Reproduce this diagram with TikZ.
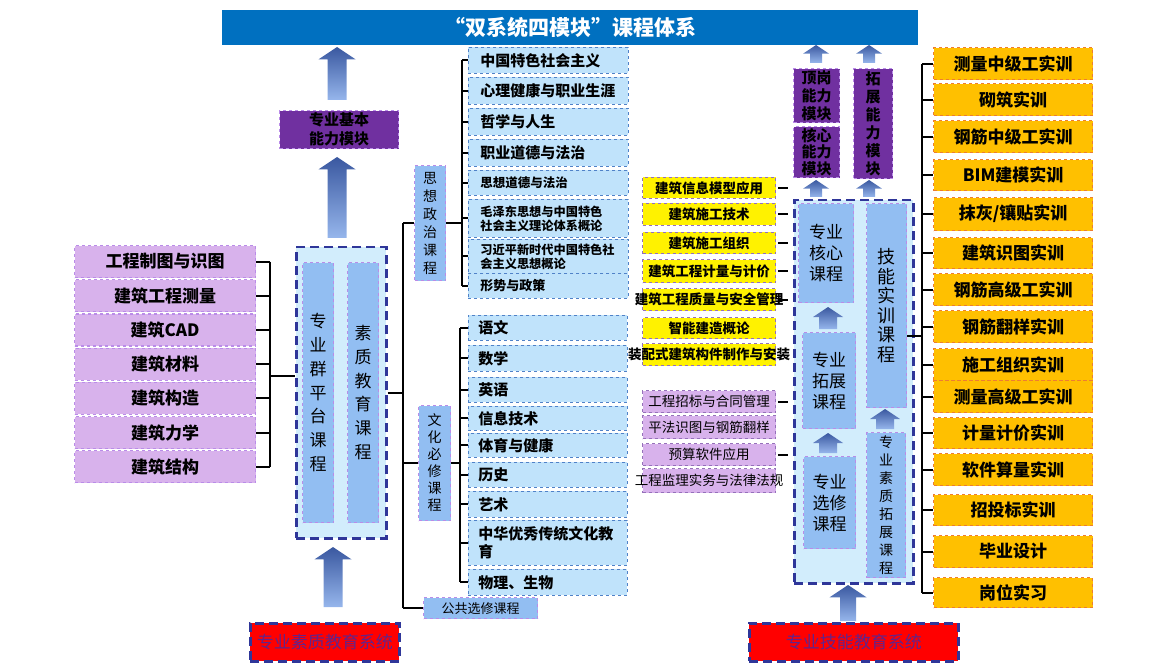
\documentclass[tikz,border=0pt]{standalone}
\usepackage{fontspec}
\setmainfont{Noto Sans CJK SC}
\definecolor{titleblue}{RGB}{0,112,192}
\definecolor{modpurple}{RGB}{112,48,160}
\definecolor{lavender}{RGB}{216,178,236}
\definecolor{lilac}{RGB}{186,140,232}
\definecolor{midblue}{RGB}{146,190,242}
\definecolor{paleblue}{RGB}{192,227,251}
\definecolor{lineblue}{RGB}{80,130,200}
\definecolor{boxfill}{RGB}{210,237,252}
\definecolor{navy}{RGB}{47,54,153}
\definecolor{gold}{RGB}{255,192,0}
\definecolor{orangeline}{RGB}{237,125,49}
\definecolor{redtext}{RGB}{96,36,140}
\definecolor{arrowtop}{RGB}{58,88,160}
\definecolor{arrowbot}{RGB}{150,182,236}
% block arrow: x, top y, bottom y, head width, shaft width
\newcommand{\blockarrow}[5]{%
  \shade[top color=arrowtop, bottom color=arrowbot]
    (#1-#5/2,#3) -- (#1-#5/2,#2+#4/3) -- (#1-#4/2,#2+#4/3) -- (#1,#2)
    -- (#1+#4/2,#2+#4/3) -- (#1+#5/2,#2+#4/3) -- (#1+#5/2,#3) -- cycle;}
\begin{document}
\begin{tikzpicture}[x=1pt, y=-1pt,
    base/.style={anchor=north west, inner sep=0pt, align=center},
    brk/.style={line width=2pt, black},
    frame/.style={base, fill=boxfill, draw=navy, line width=2.5pt, dash pattern=on 9pt off 5pt},
    inner/.style={base, fill=midblue, draw=lilac, dashed, line width=1.2pt},
    module/.style={base, fill=modpurple, draw=lilac, dashed, line width=1.2pt, font=\fontsize{15}{18}\selectfont\bfseries},
    leftitem/.style={base, minimum width=181pt, minimum height=32pt, fill=lavender, draw=lilac, dashed, line width=1.2pt, font=\fontsize{17}{20}\selectfont\bfseries},
    listitem/.style={base, fill=paleblue, draw=lineblue, dashed, line width=0.8pt, align=left},
    smallitem/.style={base, minimum width=133pt, draw=lilac!80!black, dashed, line width=1pt, font=\fontsize{13.5}{15}\selectfont},
    drill/.style={base, minimum width=159pt, fill=gold, draw=orangeline, dashed, line width=1.2pt, font=\fontsize{17}{20}\selectfont\bfseries},
    system/.style={base, minimum height=38pt, fill=red, draw=navy, line width=2.5pt, dash pattern=on 9pt off 5pt, text=redtext, font=\fontsize{17}{20}\selectfont}]
  \useasboundingbox (0,0) rectangle (1170,663);

  \node[base, fill=titleblue, minimum width=696pt, minimum height=35pt, text=white, font=\fontsize{21}{24}\selectfont\bfseries] (title) at (222,10) {“双系统四模块”课程体系};

  % left side
  \foreach \t [count=\i] in {工程制图与识图,建筑工程测量,建筑CAD,建筑材料,建筑构造,建筑力学,建筑结构}
    \node[leftitem] (jc\i) at (74,{245+(\i-1)*34.2}) {\t};
  \node[frame, minimum width=90pt, minimum height=291pt] (pt) at (295,246) {};
  \node[inner, minimum width=31pt, minimum height=260pt, font=\fontsize{17}{23.7}\selectfont] (ptk) at (302,262) {专\\业\\群\\平\\台\\课\\程};
  \node[inner, minimum width=31pt, minimum height=260pt, font=\fontsize{17}{23.7}\selectfont] (szk) at (347,262) {素\\质\\教\\育\\课\\程};
  \node[module, minimum width=119pt, minimum height=38pt, font=\fontsize{15}{19}\selectfont\bfseries] (jbm) at (279,110) {专业基本\\能力模块};
  \node[system, minimum width=149pt] (xt1) at (249,622) {专业素质教育系统};
  \blockarrow{337}{47}{100}{37}{19}
  \blockarrow{337}{157}{238}{37}{19}
  \blockarrow{333}{547}{607}{37}{19}

  \coordinate (jcb) at (270,0);
  \coordinate (jcm) at (270,376);
  \foreach \i in {1,...,7}
    \draw[brk] (jc\i.east) -- (jcb |- jc\i.east);
  \draw[brk] (jcb |- jc1.east) -- (jcb |- jc7.east);
  \draw[brk] (jcm) -- (jcm -| pt.west);

  % middle column
  \node[inner, minimum width=31pt, minimum height=115pt, font=\fontsize{14}{18}\selectfont] (zzk) at (414,165) {思\\想\\政\\治\\课\\程};
  \node[inner, minimum width=32pt, minimum height=115pt, font=\fontsize{14}{17}\selectfont] (whk) at (418,405) {文\\化\\必\\修\\课\\程};
  \node[inner, minimum width=114pt, minimum height=21pt, font=\fontsize{13}{15}\selectfont] (gx) at (423,597) {公共选修课程};
  \foreach \y/\h/\s/\t [count=\i] in {47/26/15/中国特色社会主义, 77/27/15/心理健康与职业生涯,
      108/27/15/哲学与人生, 139/27/15/职业道德与法治, 170/25/12.5/思想道德与法治,
      199/38/12.2/毛泽东思想与中国特色\\社会主义理论体系概论,
      239/34/12.2/习近平新时代中国特色社\\会主义思想概论, 273/25/13/形势与政策}
    \node[listitem, inner xsep=12pt, text width=136pt, minimum height=\h, font=\fontsize{\s}{14}\selectfont\bfseries] (zz\i) at (468,\y) {\t};
  \foreach \y/\h/\t [count=\i] in {315/25/语文, 345/26/数学, 377/25/英语, 406/24/信息技术,
      433/24/体育与健康, 462/25/历史, 491/26/艺术, 520/45/中华优秀传统文化教\\育, 569/26/物理、生物}
    \node[listitem, inner xsep=10pt, text width=139pt, minimum height=\h, font=\fontsize{15}{18}\selectfont\bfseries] (wh\i) at (468,\y) {\t};

  \coordinate (spine) at (403,0);
  \coordinate (zzb) at (462,0);
  \coordinate (whb) at (460,0);
  \draw[brk] (pt.east) -- (spine |- pt.east);
  \draw[brk] (spine |- zzk.west) -- (spine |- gx.west);
  \draw[brk] (spine |- zzk.west) -- (zzk.west);
  \draw[brk] (spine |- whk.west) -- (whk.west);
  \draw[brk] (spine |- gx.west) -- (gx.west);
  \foreach \i in {1,...,8}
    \draw[brk] (zzb |- zz\i.west) -- (zz\i.west);
  \draw[brk] (zzb |- zz1.west) -- (zzb |- zz8.west);
  \draw[brk] (zzk.east) -- (zzb |- zzk.east);
  \foreach \i in {1,...,9}
    \draw[brk] (whb |- wh\i.west) -- (wh\i.west);
  \draw[brk] (whb |- wh1.west) -- (whb |- wh9.west);
  \draw[brk] (whk.east) -- (whb |- whk.east);

  % yellow and purple courses
  \foreach \y/\h/\t [count=\i] in {177/21/建筑信息模型应用, 203/22/建筑施工技术, 232/21/建筑施工组织,
      259/23/建筑工程计量与计价, 288/22/建筑工程质量与安全管理, 317/21/智能建造概论, 343/22/装配式建筑构件制作与安装}
    \node[smallitem, fill=yellow, minimum height=\h, font=\fontsize{13.5}{15}\selectfont\bfseries] (hx\i) at (642,\y) {\makebox[0pt]{\t}};
  \foreach \y/\h/\t [count=\i] in {390/22/工程招标与合同管理, 415/23/平法识图与钢筋翻样, 443/22/预算软件应用, 468/24/工程监理实务与法律法规}
    \node[smallitem, fill=lavender, minimum height=\h] (tz\i) at (642,\y) {\makebox[0pt]{\t}};
  \foreach \i in {1,...,5}
    \draw[brk] ([xshift=2pt]hx\i.east) -- ([xshift=12pt]hx\i.east);
  \foreach \i in {1,3}
    \draw[brk] ([xshift=2pt]tz\i.east) -- ([xshift=12pt]tz\i.east);

  % right block
  \node[frame, minimum width=119pt, minimum height=383pt] (rc) at (793,199) {};
  \node[inner, minimum width=55pt, minimum height=99pt, font=\fontsize{17}{21}\selectfont] (hxk) at (798,203) {专业\\核心\\课程};
  \node[inner, minimum width=53pt, minimum height=96pt, font=\fontsize{17}{21}\selectfont] (tzk) at (802,332) {专业\\拓展\\课程};
  \node[inner, minimum width=52pt, minimum height=92pt, font=\fontsize{17}{21}\selectfont] (xxk) at (803,456) {专业\\选修\\课程};
  \node[inner, minimum width=40pt, minimum height=204pt, font=\fontsize{18}{19.5}\selectfont] (jnk) at (866,203) {技\\能\\实\\训\\课\\程};
  \node[inner, minimum width=39pt, minimum height=145pt, font=\fontsize{14}{18}\selectfont] (szt) at (866,432) {专\\业\\素\\质\\拓\\展\\课\\程};
  \node[module, minimum width=46pt, minimum height=54pt] (dg) at (793,68) {顶岗\\能力\\模块};
  \node[module, minimum width=46pt, minimum height=51pt, font=\fontsize{15}{16.5}\selectfont\bfseries] (hxm) at (793,126) {核心\\能力\\模块};
  \node[module, minimum width=39pt, minimum height=110pt] (tzm) at (853,68) {拓\\展\\能\\力\\模\\块};
  \node[system, minimum width=209pt] (xt2) at (748,622) {专业技能教育系统};
  \blockarrow{816}{45}{63}{26}{12}
  \blockarrow{869}{45}{63}{26}{12}
  \blockarrow{816}{180}{197}{26}{12}
  \blockarrow{869}{180}{197}{26}{12}
  \blockarrow{828}{307}{329}{30}{18}
  \blockarrow{828}{433}{453}{30}{18}
  \blockarrow{885}{409}{429}{30}{18}
  \blockarrow{848}{585}{621}{37}{16}

  % skill training
  \foreach \y/\h/\t [count=\i] in {47/32/测量中级工实训, 83/32/砌筑实训, 120/32/钢筋中级工实训, 159/31/BIM建模实训,
      197/33/{抹灰/镶贴实训}, 237/31/建筑识图实训, 273/32/钢筋高级工实训, 310/32/钢筋翻样实训,
      348/32/施工组织实训, 380/32/测量高级工实训, 417/31/计量计价实训, 453/32/软件算量实训,
      494/31/招投标实训, 535/32/毕业设计, 577/30/岗位实习}
    \node[drill, minimum height=\h] (sx\i) at (933,\y) {\t};
  \coordinate (sxb) at (922,0);
  \coordinate (jnr) at ([yshift=-30pt]jnk.east);
  \foreach \i in {1,...,15}
    \draw[brk] (sxb |- sx\i.west) -- (sx\i.west);
  \draw[brk] (sxb |- sx1.west) -- (sxb |- sx15.west);
  \draw[brk] (jnr) -- (sxb |- jnr);
\end{tikzpicture}
\end{document}
